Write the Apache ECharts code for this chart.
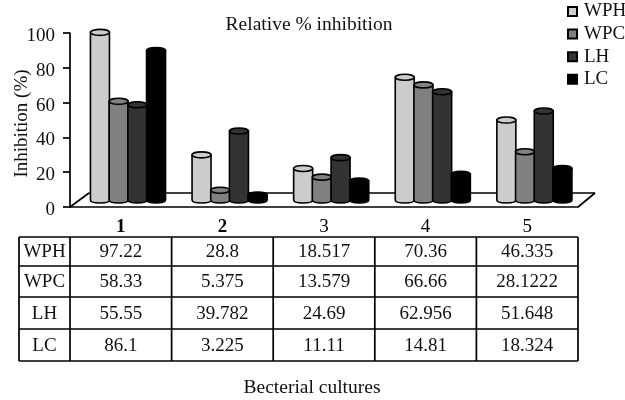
<!DOCTYPE html>
<html><head><meta charset="utf-8">
<style>html,body{margin:0;padding:0;background:#fff}#c{width:625px;height:400px}</style>
<script src="https://cdn.jsdelivr.net/npm/echarts@6/dist/echarts.min.js"></script>
</head><body><div id="c"></div>
<script>
const categories = ['1','2','3','4','5'];
const seriesNames = ['WPH','WPC','LH','LC'];
const colors = ['#cccccc','#808080','#333333','#000000'];
// values printed in the table
const tableWPH = ['97.22','28.8','18.517','70.36','46.335'];
const tableWPC = ['58.33','5.375','13.579','66.66','28.1222'];
const tableLH = ['55.55','39.782','24.69','62.956','51.648'];
const tableLC = ['86.1','3.225','11.11','14.81','18.324'];
// bar heights
const barWPH = [97.2,26.8,19,71.4,46.8];
const barWPC = [57.6,6.5,14,67,28.6];
const barLH = [55.6,40.5,25.2,63.1,52];
const barLC = [86.7,3.7,11.8,15.6,19];
const table = [tableWPH,tableWPC,tableLH,tableLC];
const bars = [barWPH,barWPC,barLH,barLC];
const FONT = '"Liberation Serif"';
const INK = '#111';

const chart = echarts.init(document.getElementById('c'),null,{renderer:'canvas'});
const L=70,R=578,T=33,B=207,colW=(R-L)/5;
const rowY=[237,266,297,329,361];
const tableLeft=19;

function cylinder(i){
  return function(params,api){
    const p=api.coord([api.value(0),api.value(1)]);
    const base=api.coord([api.value(0),0]);
    const w=19, ry=3;
    const cx=p[0]+7.2+(i-1.5)*18.7;
    const top=p[1]-5.5, bot=base[1]-7;
    const x0=cx-w/2,x1=cx+w/2;
    const style={fill:colors[i],stroke:'#000',lineWidth:1.6};
    const body=`M${x0} ${top}L${x0} ${bot}C${x0} ${bot+ry*1.33} ${x1} ${bot+ry*1.33} ${x1} ${bot}L${x1} ${top}Z`;
    return {type:'group',children:[
      {type:'path',shape:{pathData:body,layout:'cover',x:x0,y:top,width:w,height:bot-top+ry},style:style},
      {type:'ellipse',shape:{cx:cx,cy:top,rx:w/2,ry:ry},style:style}
    ]};
  };
}
const series=seriesNames.map((n,i)=>({
  name:n,type:'custom',
  renderItem:cylinder(i),
  clip:false,z:3+i,
  encode:{x:0,y:1},
  itemStyle:{color:colors[i],borderColor:'#000',borderWidth:1.6},
  data:bars[i].map((v,j)=>[j,v])
}));

const line=(x1,y1,x2,y2,w)=>({type:'line',z:1,shape:{x1,y1,x2,y2},style:{stroke:'#000',lineWidth:w||1.7}});
const txt=(x,y,s)=>({type:'text',z:1,x,y,style:{text:s,font:`19px ${FONT}`,fill:INK,align:'center',verticalAlign:'middle'}});
const g=[];
g.push(line(L,B,89,193),line(89,193,595,193),line(595,193,R,B));
rowY.forEach(y=>g.push(line(tableLeft,y,R,y)));
g.push(line(tableLeft,rowY[0],tableLeft,rowY[4]));
for(let c=0;c<=5;c++) g.push(line(L+c*colW,rowY[0],L+c*colW,rowY[4]));
seriesNames.forEach((n,r)=>{
  const cy=(rowY[r]+rowY[r+1])/2+1;
  g.push(txt((tableLeft+L)/2,cy,n));
  table[r].forEach((v,c)=>g.push(txt(L+(c+0.5)*colW,cy,v)));
});

chart.setOption({
  animation:false,
  backgroundColor:'#fff',
  textStyle:{fontFamily:FONT,color:INK},
  title:[
    {text:'Relative % inhibition',left:304,top:10,textAlign:'center',textStyle:{fontFamily:FONT,fontSize:19.5,fontWeight:'normal',color:INK}},
    {text:'Becterial cultures',left:307,top:373,textAlign:'center',textStyle:{fontFamily:FONT,fontSize:19.5,fontWeight:'normal',color:INK}}
  ],
  legend:{
    orient:'vertical',left:567,top:2,padding:0,itemWidth:9,itemHeight:9,itemGap:3.6,
    icon:'rect',
    data:seriesNames,
    textStyle:{fontFamily:FONT,fontSize:19,lineHeight:18,color:INK,padding:[0,0,0,2]}
  },
  grid:{left:L,top:T,width:R-L,height:B-T,containLabel:false,outerBoundsMode:'none'},
  xAxis:{
    type:'category',data:categories,
    axisLine:{lineStyle:{color:'#000',width:1.7}},
    axisTick:{length:30,alignWithLabel:false,lineStyle:{color:'#000',width:1.7}},
    axisLabel:{
      margin:11,fontFamily:FONT,fontSize:19,color:'#000',
      formatter:(v,i)=>i<2?`{b|${v}}`:v,
      rich:{b:{fontWeight:'bold',fontFamily:FONT,fontSize:19,color:'#000'}}
    }
  },
  yAxis:{
    type:'value',min:0,max:100,interval:20,
    name:'Inhibition (%)',nameLocation:'middle',nameGap:38,nameRotate:90,nameMoveOverlap:false,
    nameTextStyle:{fontFamily:FONT,fontSize:19,color:INK,padding:[0,7,0,0]},
    splitLine:{show:false},
    axisLine:{show:true,lineStyle:{color:'#000',width:1.7}},
    axisTick:{show:true,length:7,lineStyle:{color:'#000',width:1.7}},
    axisLabel:{margin:15,fontFamily:FONT,fontSize:19,color:INK,verticalAlign:'top',lineHeight:6}
  },
  graphic:g,
  series:series
});
</script></body></html>
